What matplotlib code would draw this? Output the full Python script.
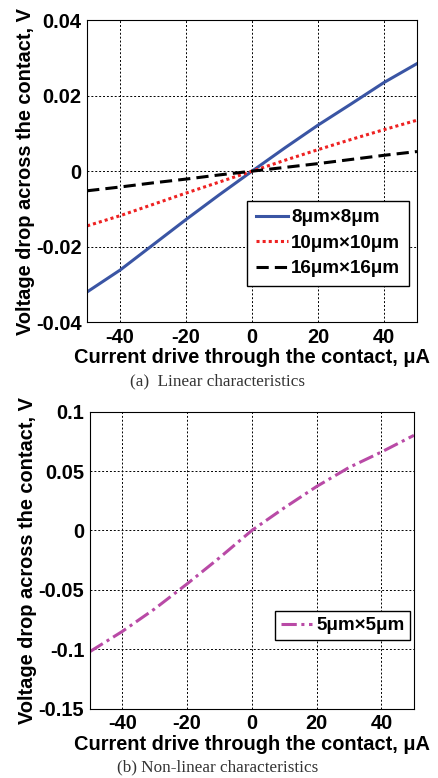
import numpy as np
import matplotlib
matplotlib.use("Agg")
from matplotlib import pyplot as plt

plt.rcParams['font.family'] = ['Liberation Sans', 'DejaVu Sans']
plt.rcParams['font.weight'] = 'bold'
plt.rcParams['axes.unicode_minus'] = False

# (a) linear characteristics
current_a = [-50, -40, -30, -20, -10, 0, 10, 20, 30, 40, 50]
v_8um = [-0.032, -0.0262, -0.0195, -0.0128, -0.0063, 0.0, 0.0062, 0.0122, 0.0178, 0.0235, 0.0285]
v_10um = [-0.0145, -0.0118, -0.0088, -0.0058, -0.0029, 0.0, 0.0029, 0.0057, 0.0084, 0.0110, 0.0135]
v_16um = [-0.0052, -0.0042, -0.0031, -0.0021, -0.0010, 0.0, 0.0010, 0.0020, 0.0031, 0.0042, 0.0052]

# (b) non-linear characteristics
current_b = [-50, -40, -30, -20, -10, 0, 10, 20, 30, 40, 50]
v_5um = [-0.102, -0.085, -0.066, -0.045, -0.023, 0.0, 0.019, 0.037, 0.053, 0.066, 0.080]

labels_a = ['8\u03bcm\u00d78\u03bcm', '10\u03bcm\u00d710\u03bcm', '16\u03bcm\u00d716\u03bcm']
label_b = '5\u03bcm\u00d75\u03bcm'

xlabel = 'Current drive through the contact, \u03bcA'
ylabel = 'Voltage drop across the contact, V'

FS = 14.4

fig = plt.figure(figsize=(4.38, 7.78), dpi=100)

ax1 = fig.add_axes([0.199, 0.586, 0.753, 0.388])
ax1.plot(current_a, v_8um, color='#3a55a4', lw=2.2, ls='-', label=labels_a[0])
ax1.plot(current_a, v_10um, color='#ee2222', lw=2.2, ls=(0, (1, 1)), label=labels_a[1])
ax1.plot(current_a, v_16um, color='black', lw=2.2, ls=(0, (4, 2)), label=labels_a[2])
ax1.set_xlim(-50, 50)
ax1.set_ylim(-0.04, 0.04)
ax1.set_xticks([-40, -20, 0, 20, 40])
ax1.set_yticks([-0.04, -0.02, 0, 0.02, 0.04])
ax1.set_yticklabels(['-0.04', '-0.02', '0', '0.02', '0.04'])
ax1.grid(True, color='black', ls=(0, (2, 2)), lw=0.7)
ax1.set_xlabel(xlabel, fontsize=FS, fontweight='bold', labelpad=1)
ax1.set_ylabel(ylabel, fontsize=FS, fontweight='bold', labelpad=1)
ax1.legend(loc='lower right', bbox_to_anchor=(0.975, 0.12), fontsize=13.5, fancybox=False,
           edgecolor='black', framealpha=1, handlelength=1.7, borderpad=0.45, labelspacing=0.45,
           handletextpad=0.2, borderaxespad=0)
fig.text(0.497, 0.505, '(a)  Linear characteristics', ha='center', family='Liberation Serif',
         fontweight='normal', fontsize=12.3, color='#333333')

ax2 = fig.add_axes([0.205, 0.089, 0.740, 0.382])
ax2.plot(current_b, v_5um, color='#b94aa6', lw=2.2, ls=(0, (5, 1.5, 1, 1.5)), label=label_b)
ax2.set_xlim(-50, 50)
ax2.set_ylim(-0.15, 0.1)
ax2.set_xticks([-40, -20, 0, 20, 40])
ax2.set_yticks([-0.15, -0.1, -0.05, 0, 0.05, 0.1])
ax2.set_yticklabels(['-0.15', '-0.1', '-0.05', '0', '0.05', '0.1'])
ax2.grid(True, color='black', ls=(0, (2, 2)), lw=0.7)
ax2.set_xlabel(xlabel, fontsize=FS, fontweight='bold', labelpad=1)
ax2.set_ylabel(ylabel, fontsize=FS, fontweight='bold', labelpad=1)
ax2.legend(loc='lower right', bbox_to_anchor=(0.988, 0.232), fontsize=13.5, fancybox=False,
           edgecolor='black', framealpha=1, handlelength=1.7, borderpad=0.3,
           handletextpad=0.2, borderaxespad=0)
fig.text(0.497, 0.008, '(b) Non-linear characteristics', ha='center', family='Liberation Serif',
         fontweight='normal', fontsize=12.3, color='#333333')

for ax in (ax1, ax2):
    ax.tick_params(labelsize=FS, direction='in', length=0, pad=4)
    for lab in ax.get_xticklabels() + ax.get_yticklabels():
        lab.set_fontweight('bold')

fig.savefig('out.png', dpi=100)
